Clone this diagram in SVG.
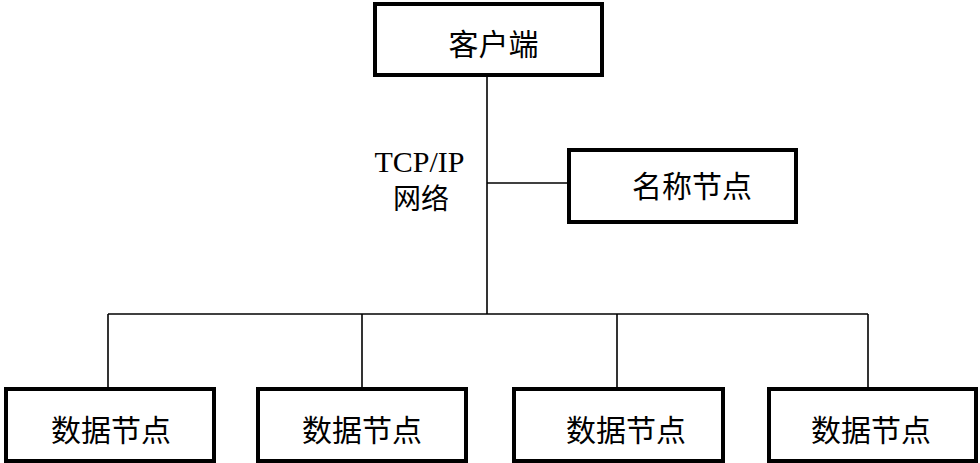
<svg xmlns="http://www.w3.org/2000/svg" width="980" height="463" viewBox="0 0 980 463">
<style>
.box{fill:#fff;stroke:#000;stroke-width:4}
.cjk{font-family:"Noto Sans CJK SC",sans-serif;font-size:30px;fill:#000;text-anchor:middle}
.lat{font-family:"Liberation Serif",serif;font-size:30px;fill:#000;text-anchor:middle}
.ln{stroke:#000;stroke-width:1.6;fill:none}
</style>
<rect width="980" height="463" fill="#fff"/>
<g id="connectors">
<line class="ln" x1="487" y1="77" x2="487" y2="314"/>
<line class="ln" x1="487" y1="183" x2="567" y2="183"/>
<line class="ln" x1="108" y1="314" x2="868" y2="314"/>
<line class="ln" x1="108" y1="314" x2="108" y2="387"/>
<line class="ln" x1="362" y1="314" x2="362" y2="387"/>
<line class="ln" x1="617" y1="314" x2="617" y2="387"/>
<line class="ln" x1="868" y1="314" x2="868" y2="387"/>
<text class="lat" x="419.5" y="172">TCP/IP</text>
<text class="cjk" x="421" y="209" style="font-size:28px">网络</text>
</g>
<g id="client">
<rect class="box" x="375" y="4" width="227" height="71"/>
<text class="cjk" x="493.5" y="55">客户端</text>
</g>
<g id="namenode">
<rect class="box" x="569" y="150" width="227" height="72"/>
<text class="cjk" x="692" y="197">名称节点</text>
</g>
<g id="datanode1">
<rect class="box" x="6" y="389" width="208" height="72"/>
<text class="cjk" x="111" y="441">数据节点</text>
</g>
<g id="datanode2">
<rect class="box" x="258" y="389" width="208" height="72"/>
<text class="cjk" x="362" y="441">数据节点</text>
</g>
<g id="datanode3">
<rect class="box" x="514" y="389" width="209" height="72"/>
<text class="cjk" x="626" y="441">数据节点</text>
</g>
<g id="datanode4">
<rect class="box" x="769" y="389" width="207" height="72"/>
<text class="cjk" x="871" y="441">数据节点</text>
</g>
</svg>
